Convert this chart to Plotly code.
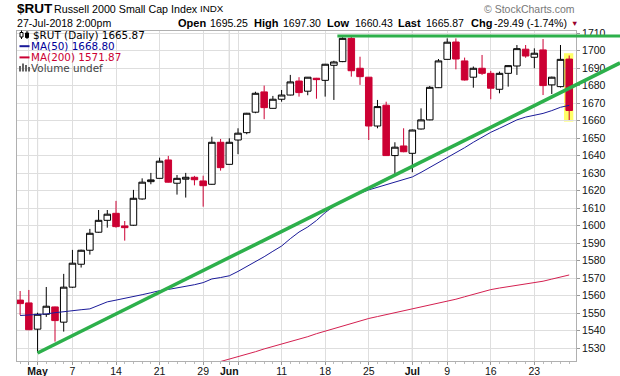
import plotly.graph_objects as go

# ---------------- data ----------------
dates = [
    "2018-04-27", "2018-04-30", "2018-05-01", "2018-05-02", "2018-05-03", "2018-05-04",
    "2018-05-07", "2018-05-08", "2018-05-09", "2018-05-10", "2018-05-11",
    "2018-05-14", "2018-05-15", "2018-05-16", "2018-05-17", "2018-05-18",
    "2018-05-21", "2018-05-22", "2018-05-23", "2018-05-24", "2018-05-25",
    "2018-05-29", "2018-05-30", "2018-05-31", "2018-06-01",
    "2018-06-04", "2018-06-05", "2018-06-06", "2018-06-07", "2018-06-08",
    "2018-06-11", "2018-06-12", "2018-06-13", "2018-06-14", "2018-06-15",
    "2018-06-18", "2018-06-19", "2018-06-20", "2018-06-21", "2018-06-22",
    "2018-06-25", "2018-06-26", "2018-06-27", "2018-06-28", "2018-06-29",
    "2018-07-02", "2018-07-03", "2018-07-05", "2018-07-06",
    "2018-07-09", "2018-07-10", "2018-07-11", "2018-07-12", "2018-07-13",
    "2018-07-16", "2018-07-17", "2018-07-18", "2018-07-19", "2018-07-20",
    "2018-07-23", "2018-07-24", "2018-07-25", "2018-07-26", "2018-07-27",
]
opens = [
    1557.5, 1555.9, 1540.9, 1549.4, 1553.6, 1544.9,
    1564.9, 1578.0, 1586.0, 1596.3, 1603.1,
    1607.1, 1599.9, 1600.3, 1615.3, 1625.2,
    1627.1, 1637.6, 1624.3, 1626.6, 1627.7,
    1625.6, 1623.7, 1647.7, 1635.1,
    1649.0, 1653.2, 1664.9, 1676.5, 1667.1,
    1672.3, 1674.7, 1682.7, 1676.9, 1684.3,
    1683.1, 1691.7, 1693.8, 1707.1, 1690.0,
    1684.9, 1657.0, 1668.9, 1640.1, 1645.6,
    1641.4, 1655.3, 1660.5, 1678.9,
    1695.1, 1705.0, 1694.2, 1684.9, 1690.0,
    1687.1, 1678.0, 1687.1, 1691.3, 1700.9,
    1696.3, 1700.5, 1680.5, 1679.5, 1695.25,
]
highs = [
    1562.7, 1563.3, 1550.3, 1565.0, 1553.8, 1572.5,
    1586.2, 1586.3, 1598.2, 1609.0, 1609.0,
    1614.2, 1602.7, 1620.5, 1627.1, 1630.2,
    1638.9, 1639.9, 1629.0, 1630.2, 1628.5,
    1628.6, 1650.9, 1649.6, 1650.0,
    1655.7, 1664.5, 1676.6, 1680.1, 1674.2,
    1677.6, 1686.2, 1684.9, 1685.0, 1684.5,
    1692.5, 1694.3, 1707.7, 1708.0, 1696.6,
    1685.0, 1671.9, 1670.9, 1647.7, 1655.7,
    1655.0, 1667.1, 1679.9, 1695.3,
    1707.1, 1707.1, 1696.1, 1691.0, 1697.6,
    1688.5, 1688.1, 1691.7, 1703.3, 1703.3,
    1701.4, 1706.7, 1685.2, 1703.3, 1697.30,
]
lows = [
    1549.0, 1540.3, 1527.5, 1547.9, 1533.8, 1539.5,
    1564.5, 1576.1, 1583.5, 1596.0, 1598.9,
    1598.9, 1591.5, 1600.0, 1614.9, 1623.7,
    1627.0, 1624.7, 1617.8, 1616.1, 1623.1,
    1610.9, 1623.5, 1631.5, 1635.0,
    1640.9, 1652.3, 1664.3, 1660.9, 1667.0,
    1670.9, 1674.5, 1673.8, 1674.6, 1672.6,
    1673.8, 1671.9, 1693.5, 1685.2, 1680.5,
    1649.0, 1655.7, 1640.0, 1629.6, 1642.0,
    1630.6, 1655.0, 1660.3, 1678.7,
    1695.0, 1689.4, 1683.0, 1678.9, 1686.2,
    1672.3, 1675.7, 1679.5, 1686.2, 1696.0,
    1690.0, 1674.7, 1675.3, 1679.0, 1660.43,
]
closes = [
    1555.5, 1540.6, 1549.4, 1554.0, 1545.8, 1564.9,
    1578.6, 1586.0, 1595.7, 1603.1, 1606.6,
    1599.5, 1598.9, 1615.7, 1624.9, 1626.2,
    1636.9, 1624.9, 1627.1, 1627.7, 1626.3,
    1622.9, 1647.7, 1633.2, 1647.7,
    1652.9, 1664.3, 1675.7, 1667.5, 1672.3,
    1674.7, 1682.2, 1676.1, 1684.9, 1683.5,
    1692.3, 1693.6, 1707.1, 1688.6, 1685.2,
    1657.0, 1668.1, 1640.1, 1644.9, 1642.3,
    1654.7, 1660.5, 1679.1, 1694.2,
    1704.9, 1695.3, 1683.3, 1690.0, 1687.1,
    1678.6, 1687.1, 1691.5, 1701.2, 1697.0,
    1698.6, 1680.1, 1684.9, 1695.1, 1665.87,
]
ma50 = [
    1548.7, 1548.9, 1549.0, 1549.6, 1550.3, 1551.0,
    1551.5, 1552.0, 1552.5, 1554.3, 1556.5,
    1557.5, 1558.4, 1559.4, 1560.6, 1561.7,
    1562.9, 1563.6, 1564.4, 1565.2, 1566.3,
    1567.5, 1569.6, 1570.4, 1571.4,
    1573.9, 1576.6, 1579.2, 1582.3, 1585.4,
    1588.4, 1592.6, 1596.4, 1599.3, 1603.0,
    1607.5, 1611.2, 1613.9, 1616.3, 1618.6,
    1620.5, 1622.0, 1623.2, 1624.6, 1626.2,
    1627.9, 1630.5, 1633.3, 1636.1,
    1639.0, 1641.5, 1644.6, 1647.7, 1650.7,
    1653.4, 1655.7, 1658.1, 1660.5, 1662.1,
    1663.0, 1664.2, 1665.8, 1667.7, 1668.80,
]
ma200 = [
    None, None, None, None, None, None,
    None, None, None, None, None,
    None, None, None, None, None,
    None, None, None, None, None,
    None, None, 1522.4, 1523.7,
    1525.0, 1526.4, 1528.0, 1529.6, 1531.0,
    1532.3, 1533.6, 1535.1, 1536.6, 1538.3,
    1539.8, 1541.4, 1542.9, 1544.3, 1545.6,
    1547.0, 1548.1, 1549.2, 1550.1, 1551.2,
    1552.3, 1553.4, 1554.5, 1555.6,
    1556.6, 1558.0, 1559.4, 1560.8, 1562.2,
    1563.5, 1564.4, 1565.2, 1565.9, 1566.5,
    1567.2, 1568.3, 1569.5, 1570.9, 1571.87,
]
tick_dates = ["2018-04-30", "2018-05-01", "2018-05-07", "2018-05-14", "2018-05-21",
              "2018-05-29", "2018-06-01", "2018-06-04", "2018-06-11", "2018-06-18",
              "2018-06-25", "2018-07-02", "2018-07-09", "2018-07-16", "2018-07-23"]
tick_text = ["", "<b>May</b>", "7", "14", "21", "29", "<b>Jun</b>", "", "11", "18",
             "25", "<b>Jul</b>", "9", "16", "23"]
month_dates = ["2018-05-01", "2018-06-01", "2018-07-02"]
y_ticks = list(range(1530, 1711, 10))
# drawn trendlines: (date, price) anchors
trend_up = [("2018-05-01", 1527.3), ("2018-07-27", 1678.6)]
trend_top = [(34.4, 1708.5)]   # start position (trading-day offset from May 1), level

# ---------------- layout constants ----------------
W, H = 620, 376
ML, MR, MT, MB = 17, 44, 31, 15
X_RANGE = [-0.36, 63.78]
Y_RANGE = [1522.7, 1711.3]
FONT = "Liberation Sans, Arial, sans-serif"
LFONT = "DejaVu Sans, Verdana, sans-serif"
RED = "#cc0033"
NAVY = "#1a1a99"
GREEN = "#2db04b"

pos = list(range(len(dates)))
def p_of(d):
    return dates.index(d)

pw = W - ML - MR
ph = H - MT - MB
def px(x):
    return (x - ML) / pw
def py(y):
    return (H - MB - y) / ph
def xp_data(p):
    return (p - X_RANGE[0]) / (X_RANGE[1] - X_RANGE[0])
def yp_data(v):
    return (v - Y_RANGE[0]) / (Y_RANGE[1] - Y_RANGE[0])

fig = go.Figure()
fig.add_trace(go.Candlestick(
    x=pos, open=opens, high=highs, low=lows, close=closes,
    increasing=dict(line=dict(color="#000000", width=1), fillcolor="#ffffff"),
    decreasing=dict(line=dict(color=RED, width=1), fillcolor=RED),
    whiskerwidth=0, showlegend=False, hoverinfo="skip",
))
fig.add_trace(go.Scatter(x=pos, y=ma50, mode="lines", line=dict(color=NAVY, width=1),
                         showlegend=False, hoverinfo="skip"))
fig.add_trace(go.Scatter(x=pos, y=ma200, mode="lines", line=dict(color="#d42050", width=1),
                         showlegend=False, hoverinfo="skip", connectgaps=False))

shapes = []
# month separator lines
for d in month_dates:
    shapes.append(dict(type="line", xref="x", yref="paper", x0=p_of(d), x1=p_of(d), y0=0, y1=1,
                       line=dict(color="#b4b4b4", width=1), layer="below"))
# yellow highlight on last bar
last = len(dates) - 1
shapes.append(dict(type="rect", xref="x", yref="y", x0=last - 0.6, x1=last + 0.47,
                   y0=lows[-1] - 0.9, y1=highs[-1] + 1.3,
                   fillcolor="#ffff66", line=dict(width=0), layer="below"))
# rising trendline, extended to the right edge of the image
(d0, v0), (d1, v1) = trend_up
p0, p1 = p_of(d0), p_of(d1)
slope = (v1 - v0) / (p1 - p0)
x_end_paper = px(W)
p_end = X_RANGE[0] + x_end_paper * (X_RANGE[1] - X_RANGE[0])
v_end = v0 + (p_end - p0) * slope
shapes.append(dict(type="line", xref="paper", yref="paper",
                   x0=xp_data(p0), y0=yp_data(v0), x1=x_end_paper, y1=yp_data(v_end),
                   line=dict(color=GREEN, width=3.5), layer="above"))
# horizontal resistance line
ps, lvl = trend_top[0]
ps = ps + p_of("2018-05-01")
shapes.append(dict(type="line", xref="paper", yref="paper",
                   x0=xp_data(ps), y0=yp_data(lvl), x1=x_end_paper, y1=yp_data(lvl),
                   line=dict(color=GREEN, width=3), layer="above"))

# legend icons (decorative)
shapes += [
    dict(type="line", xref="paper", yref="paper", x0=px(21.5), x1=px(21.5), y0=py(30.5), y1=py(39),
         line=dict(color="#000", width=1)),
    dict(type="rect", xref="paper", yref="paper", x0=px(20), x1=px(23), y0=py(32.5), y1=py(37),
         line=dict(color="#000", width=1), fillcolor="#fff"),
    dict(type="line", xref="paper", yref="paper", x0=px(27), x1=px(27), y0=py(31), y1=py(39),
         line=dict(color="#000", width=1)),
    dict(type="rect", xref="paper", yref="paper", x0=px(25.5), x1=px(28.5), y0=py(33), y1=py(37.5),
         line=dict(color="#000", width=1), fillcolor="#000"),
    dict(type="line", xref="paper", yref="paper", x0=px(19.5), x1=px(29.5), y0=py(46.2), y1=py(46.2),
         line=dict(color=NAVY, width=2)),
    dict(type="line", xref="paper", yref="paper", x0=px(19.5), x1=px(29.5), y0=py(57.4), y1=py(57.4),
         line=dict(color=RED, width=2)),
]
for bx, top in [(20, 66), (23, 63.5), (26, 65), (29, 67)]:
    shapes.append(dict(type="rect", xref="paper", yref="paper", x0=px(bx - 1), x1=px(bx + 1),
                       y0=py(71.5), y1=py(top), line=dict(width=0), fillcolor="#666"))

ann = []
def text(x, y, s, size=10.5, color="#000", family=FONT, anchor="left", pad=1):
    ann.append(dict(x=px(x), y=py(y), xref="paper", yref="paper", text=s, showarrow=False,
                    xanchor=anchor, yanchor="middle", borderpad=pad,
                    font=dict(family=family, size=size, color=color)))

text(15, 8.5, "<b>$RUT</b>", size=13.5)
text(52, 8.5, "Russell 2000 Small Cap Index", size=10.7)
text(198, 8.5, "INDX", size=9.8)
text(15, 23, "27-Jul-2018 2:00pm", size=10.6)
text(576.5, 9.5, "\u00a9 StockCharts.com", size=10.5, color="#777777", anchor="right")
for x, s in [(175.5, "<b>Open</b>"), (208, "1695.25"), (252, "<b>High</b>"), (280.5, "1697.30"),
             (324.5, "<b>Low</b>"), (353, "1660.43"), (396, "<b>Last</b>"), (424, "1665.87"),
             (468.5, "<b>Chg</b>"), (492, "-29.49 (-1.74%)")]:
    text(x, 23, s, size=11 if s.startswith("<b>") else 10.5)
text(568.5, 23, "\u25BC", size=7.5, color="#99002b")

text(32, 34.6, "$RUT (Daily) 1665.87", size=10.4, family=LFONT, pad=0)
text(29.5, 45.9, "MA(50) 1668.80", size=10.4, family=LFONT, color="#000099", pad=0)
text(29.5, 57.1, "MA(200) 1571.87", size=10.4, family=LFONT, color=RED, pad=0)
text(29.5, 68.4, "Volume undef", size=10.4, family=LFONT, color="#444444", pad=0)

fig.update_layout(
    width=W, height=H,
    margin=dict(l=ML, r=MR, t=MT, b=MB, pad=0),
    paper_bgcolor="#ffffff", plot_bgcolor="#ffffff",
    boxgap=0.25, boxgroupgap=0,
    shapes=shapes, annotations=ann,
    showlegend=False, hovermode=False,
    xaxis=dict(
        range=X_RANGE, rangeslider=dict(visible=False),
        tickmode="array", tickvals=[p_of(d) for d in tick_dates], ticktext=tick_text,
        showgrid=True, gridcolor="#dedede", gridwidth=1,
        showline=True, linecolor="#b0b0b0", linewidth=1, mirror=True,
        ticks="outside", ticklen=3, tickcolor="#999999",
        minor=dict(tickmode="linear", tick0=0, dtick=1, ticks="outside", ticklen=2,
                   tickcolor="#bbbbbb", showgrid=False),
        tickfont=dict(family=FONT, size=10.5, color="#111111"),
        ticklabelstandoff=-3,
        zeroline=False, fixedrange=True, automargin=False,
    ),
    yaxis=dict(
        range=Y_RANGE, side="right", tickmode="array", tickvals=y_ticks,
        showgrid=True, gridcolor="#dedede", gridwidth=1,
        showline=True, linecolor="#b0b0b0", linewidth=1, mirror=True,
        ticks="outside", ticklen=3, tickcolor="#999999",
        tickfont=dict(family=FONT, size=10.5, color="#111111"),
        zeroline=False, fixedrange=True, automargin=False,
    ),
)

fig.write_html("out.html", config={"displayModeBar": False},
               post_script="document.body.style.margin='0';document.body.style.overflow='hidden';")
